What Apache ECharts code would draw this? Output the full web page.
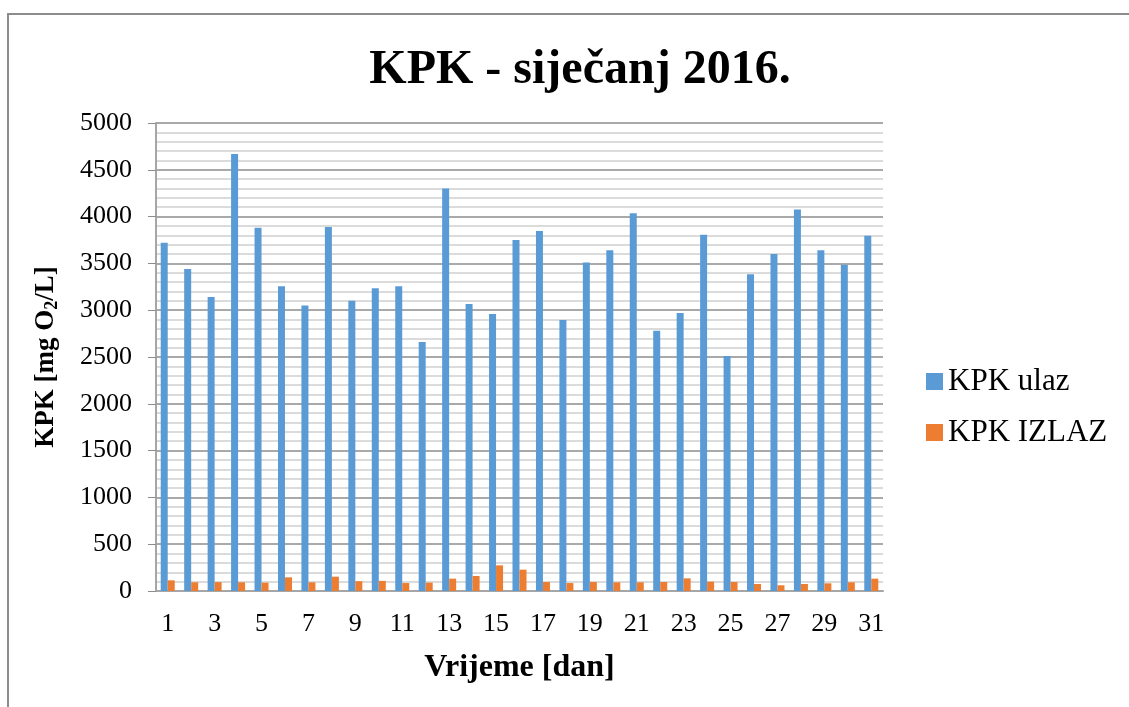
<!DOCTYPE html>
<html>
<head>
<meta charset="utf-8">
<script src="https://cdn.jsdelivr.net/npm/echarts@6/dist/echarts.min.js"></script>
<style>
  html, body { margin: 0; padding: 0; background: #fff; }
  #chart { width: 1129px; height: 707px; }
</style>
</head>
<body>
<div id="chart"></div>
<script>
  // dani u mjesecu
  const days = ['1','2','3','4','5','6','7','8','9','10','11','12','13','14','15','16',
    '17','18','19','20','21','22','23','24','25','26','27','28','29','30','31']
  // KPK na ulazu
  const kpkUlaz = [3720, 3440, 3140, 4670, 3880, 3255, 3050, 3890, 3100, 3235, 3255, 2660, 4300, 3065, 2960, 3750,
    3845, 2895, 3510, 3640, 4035, 2780, 2970, 3805, 2510, 3385, 3600, 4075, 3640, 3485, 3795]
  // KPK na izlazu
  const kpkIzlaz = [114, 93, 95, 93, 89, 146, 93, 153, 105, 108, 85, 89, 132, 160, 274, 228,
    96, 85, 96, 93, 93, 96, 135, 100, 96, 75, 61, 75, 82, 93, 132]
  const yTicks = [0, 500, 1000, 1500, 2000, 2500, 3000, 3500, 4000, 4500, 5000]

  const font = '"Liberation Serif", "Times New Roman", serif'
  const chart = echarts.init(document.getElementById('chart'))

  chart.setOption({
    animation: false,
    backgroundColor: '#fff',
    textStyle: { fontFamily: font },
    graphic: [{
      type: 'rect',
      shape: { x: 8, y: 14, width: 1300, height: 900 },
      style: { fill: 'none', stroke: '#8c8c8c', lineWidth: 2 },
      silent: true
    }],
    title: {
      text: 'KPK - siječanj 2016.',
      left: 575,
      textAlign: 'center',
      top: 42,
      textStyle: { fontFamily: font, fontSize: 48, fontWeight: 'bold', color: '#000' }
    },
    legend: {
      orient: 'vertical',
      left: 926,
      top: 366,
      padding: 0,
      itemWidth: 17,
      itemHeight: 17,
      itemGap: 20,
      icon: 'rect',
      textStyle: { fontFamily: font, fontSize: 31, color: '#000' },
      data: ['KPK ulaz', 'KPK IZLAZ']
    },
    grid: { left: 156, right: 246, top: 123, bottom: 116, containLabel: false },
    xAxis: {
      type: 'category',
      data: days,
      name: 'Vrijeme [dan]',
      nameLocation: 'middle',
      nameGap: 61,
      nameTextStyle: { fontFamily: font, fontSize: 32, fontWeight: 'bold', color: '#000' },
      axisLine: { lineStyle: { color: '#a6a6a6', width: 2 } },
      axisTick: { show: false },
      axisLabel: { interval: 1, fontFamily: font, fontSize: 26, color: '#000', margin: 20 },
      splitLine: { show: false }
    },
    yAxis: {
      type: 'value',
      min: yTicks[0],
      max: yTicks[yTicks.length - 1],
      interval: 500,
      name: '{m|KPK [mg O}{s|2}{m|/L]}',
      nameLocation: 'middle',
      nameGap: 94,
      nameRotate: 90,
      nameTextStyle: {
        rich: {
          m: { fontFamily: font, fontSize: 27, fontWeight: 'bold', color: '#000', lineHeight: 32 },
          s: { fontFamily: font, fontSize: 18, fontWeight: 'bold', color: '#000', lineHeight: 32, padding: [13, 0, 0, 0] }
        }
      },
      axisLine: { show: true, lineStyle: { color: '#a6a6a6', width: 2 } },
      axisTick: { show: true, length: 8, lineStyle: { color: '#8c8c8c', width: 1 } },
      axisLabel: { fontFamily: font, fontSize: 26, color: '#000', margin: 24, formatter: v => String(v) },
      splitLine: { lineStyle: { color: '#8c8c8c', width: 1.5 } },
      minorTick: { show: false, splitNumber: 5 },
      minorSplitLine: { show: true, lineStyle: { color: '#cfcfcf', width: 1.5 } }
    },
    series: [{
      name: 'KPK ulaz',
      type: 'bar',
      data: kpkUlaz,
      barWidth: 7,
      barGap: '0%',
      barCategoryGap: '43%',
      itemStyle: { color: '#5B9BD5' }
    }, {
      name: 'KPK IZLAZ',
      type: 'bar',
      data: kpkIzlaz,
      barWidth: 7,
      itemStyle: { color: '#ED7D31' }
    }]
  })
</script>
</body>
</html>
